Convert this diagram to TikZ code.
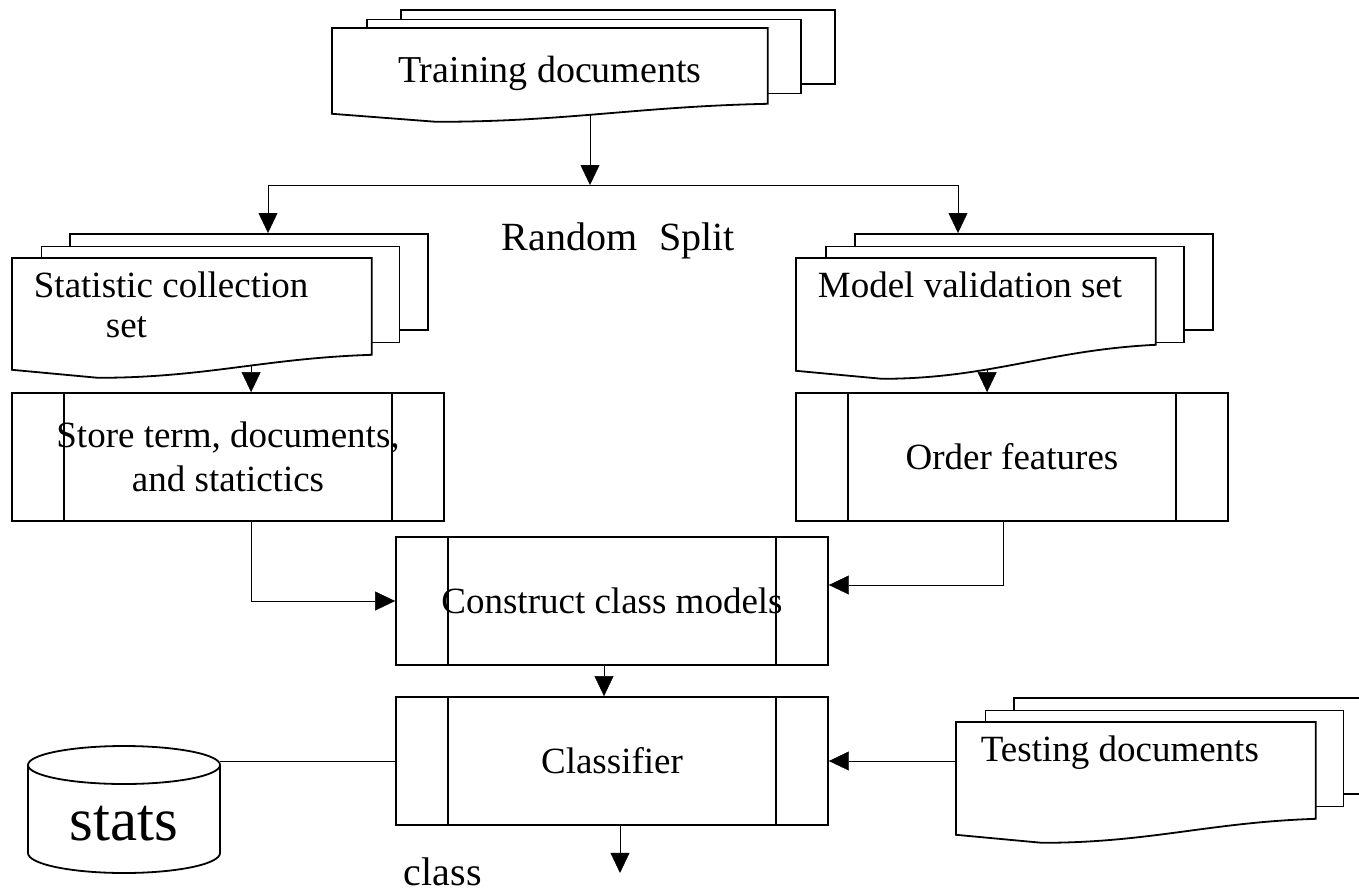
\documentclass[tikz,border=0pt]{standalone}
\usepackage{fontspec}
\setmainfont{Liberation Serif}
\usetikzlibrary{calc,positioning,arrows.meta,backgrounds}

% stack of three document sheets: name, front top left, width, height,
% sheet shift x, sheet shift y, wave depth, height of the sheets behind
\newcommand{\docstack}[8]{%
    \foreach \k in {2,1}
        \node[sheet, minimum width=#3pt, minimum height=#8pt]
            (#1-\k) at ($(#2)+(\k*#5,-\k*#6)$) {};
    \node[sheet, draw=none, fill=none, minimum width=#3pt, minimum height=#4pt] (#1) at (#2) {};
    \draw[fill=white] (#1.south east) -- (#1.north east) -- (#1.north west)
        -- ($(#1.south west)+(0,#7-8)$) -- ($(#1.south west)+(0.24*#3,#7)$)
        .. controls ($(#1.south west)+(0.54*#3,#7)$) and ($(#1.south east)+(-0.3*#3,0.15*#7)$)
        .. (#1.south east) -- cycle;
}

\begin{document}
\begin{tikzpicture}[x=1pt, y=-1pt, line width=1.8pt,
            >={Triangle[length=20pt, width=19pt]},
            sheet/.style = {draw, fill=white, anchor=north west, inner sep=0pt},
            txt/.style = {font=\fontsize{37}{44}\selectfont, inner sep=0pt},
            procbox/.style = {draw, fill=white, txt, align=center,
                    minimum width=432pt, minimum height=128pt,
                    path picture={
                            \draw ([xshift=52pt]path picture bounding box.north west)
                                -- ([xshift=52pt]path picture bounding box.south west);
                            \draw ([xshift=-52pt]path picture bounding box.north east)
                                -- ([xshift=-52pt]path picture bounding box.south east);
                        }},
        ]
    \useasboundingbox (0,0) rectangle (1359,892);

    \docstack{train}{332,28}{434}{74}{34}{9.5}{18}{74}
    \docstack{stat}{12,258}{358}{95}{28.5}{12.5}{23}{96}
    \docstack{model}{796,258}{358}{85}{29}{12.5}{34}{96}
    \docstack{test}{956,722}{358}{95}{28.5}{12.5}{24}{96}

    \node[txt, font=\fontsize{38}{44}\selectfont, anchor=base] (trainlabel)
        at ($(train.north)+(0,54)$) {Training documents};
    \node[txt, font=\fontsize{37}{40}\selectfont, anchor=base west, align=left] (statlabel)
        at ($(stat.north west)+(21,79)$) {Statistic collection\\\hspace*{72pt}set};
    \node[txt, anchor=base west] (modellabel) at ($(model.north west)+(21,39)$) {Model validation set};
    \node[txt, anchor=base west] (testlabel) at ($(test.north west)+(24,39)$) {Testing documents};

    \coordinate (split) at (590,185);
    \node[txt, font=\fontsize{40}{44}\selectfont, anchor=base west] (splitlabel)
        at (501,250) {Random\hspace{22pt}Split};

    \node[procbox] (store) at (228,457) {Store term, documents,\\and statictics};
    \node[procbox] (order) at (1012,457) {Order features};
    \node[procbox] (construct) at (612,601) {Construct class models};
    \node[procbox] (classifier) at (612,761) {Classifier};

    \draw[fill=white] (28,765) -- (28,853) arc[start angle=180, end angle=0, x radius=96, y radius=20] -- (220,765);
    \draw[fill=white] (124,765) ellipse[x radius=96, y radius=19];
    \node[txt, font=\fontsize{61}{61}\selectfont, anchor=base] (stats) at (124,840) {stats};
    \coordinate (stats-rim) at (220,761);

    \coordinate (out) at ($(classifier.south)+(8,47)$);
    \node[txt, font=\fontsize{40}{44}\selectfont, anchor=base west] (classlabel) at (403,885) {class};

    \begin{scope}[on background layer]
        \draw[->] (train.center -| split) -- (split);
        \draw[->] (split) -| ($(stat-2.north west)+(199,0)$);
        \draw[->] (split) -| ($(model-2.north west)+(104,0)$);
        \draw[->] ($(store.north west)+(240,-40)$) -- ($(store.north west)+(240,0)$);
        \draw[->] ($(order.north west)+(192,-40)$) -- ($(order.north west)+(192,0)$);
        \draw[->] ($(store.south west)+(240,0)$) |- (construct.west);
        \draw[->] ($(order.south west)+(208,0)$) |- ($(construct.east)+(0,-16)$);
        \draw[->] ($(construct.south)+(-8,0)$) -- ($(classifier.north)+(-8,0)$);
        \draw[->] ($(classifier.south)+(8,0)$) -- (out);
        \draw[->] (test.west |- classifier.east) -- (classifier.east);
        \draw (stats-rim) -- (classifier.west);
    \end{scope}
\end{tikzpicture}
\end{document}
